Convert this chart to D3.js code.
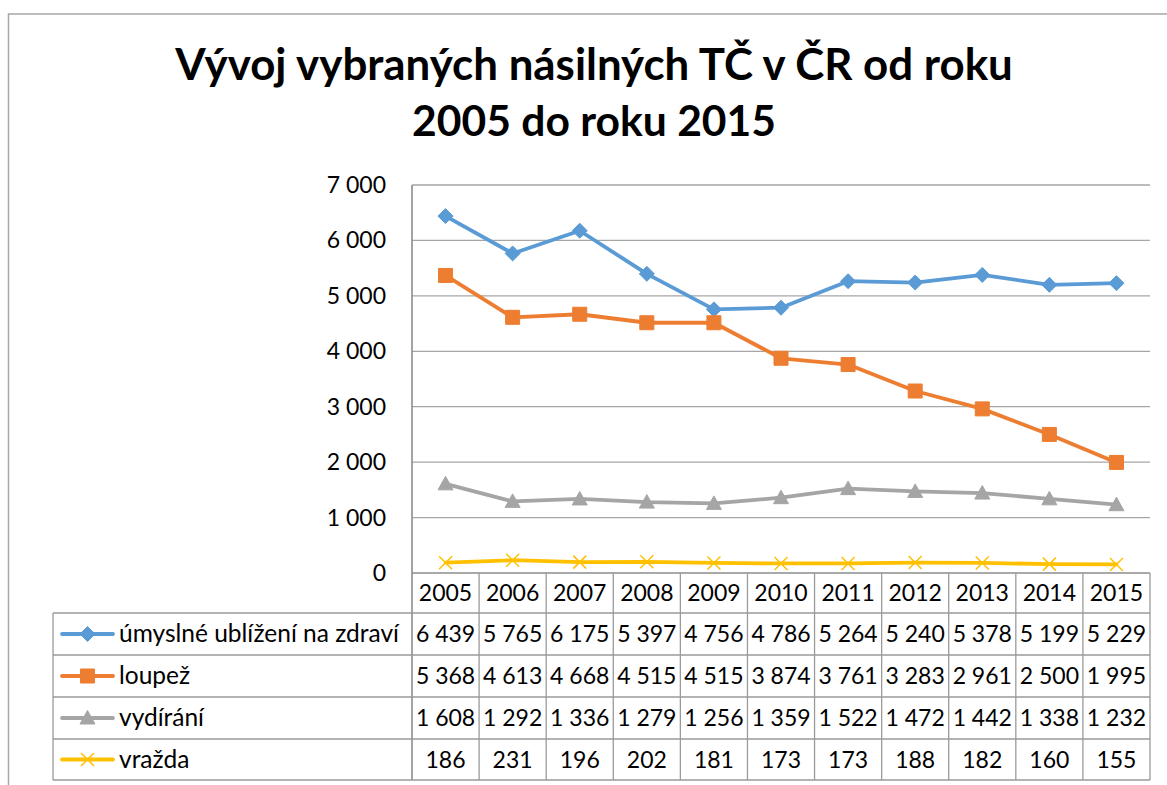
<!DOCTYPE html>
<html>
<head>
<meta charset="utf-8">
<script src="https://cdn.jsdelivr.net/npm/d3@7"></script>
<style>
  body { margin: 0; background: #fff; }
  svg text { font-family: Lato, "Open Sans", sans-serif; fill: #000; }
</style>
</head>
<body>
<svg id="chart" width="1167" height="785"></svg>
<script>
const years = ['2005', '2006', '2007', '2008', '2009', '2010', '2011', '2012', '2013', '2014', '2015'];
const seriesNames = ['úmyslné ublížení na zdraví', 'loupež', 'vydírání', 'vražda'];
const ublizeni = [6439, 5765, 6175, 5397, 4756, 4786, 5264, 5240, 5378, 5199, 5229];
const loupez = [5368, 4613, 4668, 4515, 4515, 3874, 3761, 3283, 2961, 2500, 1995];
const vydirani = [1608, 1292, 1336, 1279, 1256, 1359, 1522, 1472, 1442, 1338, 1232];
const vrazda = [186, 231, 196, 202, 181, 173, 173, 188, 182, 160, 155];
const yTicks = [0, 1000, 2000, 3000, 4000, 5000, 6000, 7000];
const colors = ['#5B9BD5', '#ED7D31', '#A5A5A5', '#FFC000'];
const markers = ['diamond', 'square', 'triangle', 'cross'];

const series = [ublizeni, loupez, vydirani, vrazda];
const svg = d3.select('#chart');
const fmt = v => d3.format(',')(v).replace(/,/g, ' ');
const fs = 23;

// outer frame (only top and left visible in the crop)
svg.append('path').attr('d', 'M8.5,785 V14 H1167')
  .attr('fill', 'none').attr('stroke', '#A8A8A8').attr('stroke-width', 1.5);

// title
const titleLines = ['Vývoj vybraných násilných TČ v ČR od roku', '2005 do roku 2015'];
const titleY = [80, 136];
const titleW = [838, 364];
titleLines.forEach((t, i) => {
  const txt = svg.append('text')
    .attr('x', 594).attr('y', titleY[i])
    .attr('text-anchor', 'middle')
    .attr('font-weight', 'bold')
    .attr('font-size', 40)
    .text(t);
  const w = txt.node().getComputedTextLength();
  txt.attr('font-size', 40 * titleW[i] / w);
});

const plotLeft = 412, plotRight = 1150, plotTop = 185, zero = 573;
const x = d3.scaleBand().domain(years).range([plotLeft, plotRight]);
const y = d3.scaleLinear().domain([0, 7000]).range([zero, plotTop]);

// gridlines
svg.append('g').selectAll('line').data(yTicks.filter(d => d > 0)).join('line')
  .attr('x1', plotLeft).attr('x2', plotRight)
  .attr('y1', d => y(d)).attr('y2', d => y(d))
  .attr('stroke', '#A6A6A6').attr('stroke-width', 1.3);

// y labels
svg.append('g').selectAll('text').data(yTicks).join('text')
  .attr('x', 386).attr('y', d => y(d) + 8)
  .attr('text-anchor', 'end').attr('font-size', fs)
  .text(d => fmt(d));

// data table
const rowTop = [573, 613, 655, 697, 739, 780];
const tg = svg.append('g').attr('stroke', '#9A9A9A').attr('stroke-width', 1.3).attr('fill', 'none');
// axis line
tg.append('line').attr('x1', plotLeft).attr('x2', plotLeft).attr('y1', plotTop).attr('y2', 780).attr('stroke', '#8C8C8C').attr('stroke-width', 1.6);
tg.append('line').attr('x1', plotLeft).attr('x2', plotRight).attr('y1', zero).attr('y2', zero).attr('stroke', '#8C8C8C').attr('stroke-width', 1.6);
// column separators
tg.selectAll('line.col').data(years).join('line').attr('class', 'col')
  .attr('x1', d => x(d) + x.bandwidth()).attr('x2', d => x(d) + x.bandwidth())
  .attr('y1', zero).attr('y2', 780);
tg.append('line').attr('x1', 53).attr('x2', 53).attr('y1', rowTop[1]).attr('y2', 780);
tg.selectAll('line.row').data(rowTop.slice(1)).join('line').attr('class', 'row')
  .attr('x1', 53).attr('x2', plotRight)
  .attr('y1', d => d).attr('y2', d => d);

// year header
svg.append('g').selectAll('text').data(years).join('text')
  .attr('x', d => x(d) + x.bandwidth() / 2).attr('y', 601)
  .attr('text-anchor', 'middle').attr('font-size', fs)
  .text(d => d);

function markerPath(type, cx, cy) {
  if (type === 'diamond') return `M${cx},${cy - 7.5}L${cx + 7.5},${cy}L${cx},${cy + 7.5}L${cx - 7.5},${cy}Z`;
  if (type === 'square') return `M${cx - 7},${cy - 7}h14v14h-14Z`;
  if (type === 'triangle') return `M${cx},${cy - 7.5}L${cx + 7.5},${cy + 6}L${cx - 7.5},${cy + 6}Z`;
  return `M${cx - 6.5},${cy - 6.5}L${cx + 6.5},${cy + 6.5}M${cx - 6.5},${cy + 6.5}L${cx + 6.5},${cy - 6.5}`;
}

function drawMarker(g, type, color, cx, cy) {
  const p = g.append('path').attr('d', markerPath(type, cx, cy));
  if (type === 'cross') p.attr('fill', 'none').attr('stroke', color).attr('stroke-width', 1.5);
  else p.attr('fill', color).attr('stroke', color).attr('stroke-width', 1);
}

series.forEach((vals, si) => {
  const rc = (rowTop[si + 1] + rowTop[si + 2]) / 2;
  // legend key
  const lg = svg.append('g');
  lg.append('line').attr('x1', 62).attr('x2', 113).attr('y1', rc).attr('y2', rc)
    .attr('stroke', colors[si]).attr('stroke-width', 3.8).attr('stroke-linecap', 'round');
  drawMarker(lg, markers[si], colors[si], 87.5, rc);
  lg.append('text').attr('x', 119).attr('y', rc + 8).attr('font-size', 24.5).text(seriesNames[si]);
  // values
  svg.append('g').selectAll('text').data(vals).join('text')
    .attr('x', (d, i) => x(years[i]) + x.bandwidth() / 2).attr('y', rc + 8)
    .attr('text-anchor', 'middle').attr('font-size', fs)
    .text(d => fmt(d));
});

// lines and markers
series.forEach((vals, si) => {
  const line = d3.line().x((d, i) => x(years[i]) + x.bandwidth() / 2).y(d => y(d));
  const g = svg.append('g');
  g.append('path').datum(vals).attr('d', line)
    .attr('fill', 'none').attr('stroke', colors[si]).attr('stroke-width', 3.8)
    .attr('stroke-linejoin', 'round').attr('stroke-linecap', 'round');
  vals.forEach((v, i) => drawMarker(g, markers[si], colors[si], x(years[i]) + x.bandwidth() / 2, y(v)));
});
</script>
</body>
</html>
